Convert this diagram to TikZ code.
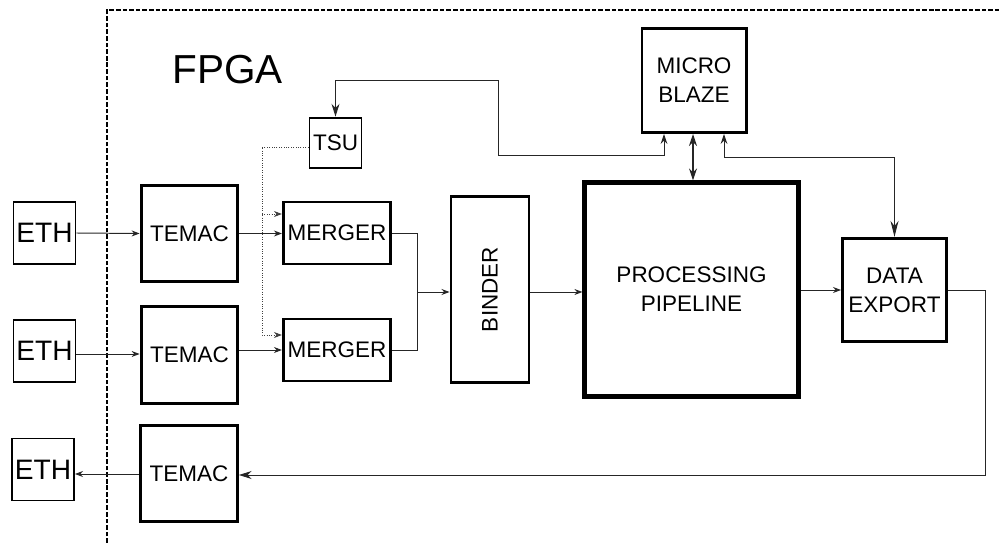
\documentclass[tikz,border=0pt]{standalone}
\usepackage{fontspec}
\setmainfont{Liberation Sans}
\usetikzlibrary{arrows.meta, positioning}

\begin{document}
\begin{tikzpicture}[x=0.025cm, y=-0.025cm,
    >={Stealth[length=0.2cm, width=0.15cm]},
    blk/.style={draw, line width=2.1pt, align=center, inner sep=0pt,
                font=\fontsize{16pt}{20.6pt}\selectfont},
    thin blk/.style={blk, line width=1.4pt},
    wire/.style={line width=0.7pt, black!85},
    dotline/.style={wire, densely dotted, line width=0.7pt, black!75},
    bigtip/.style={-{Stealth[length=0.32cm, width=0.2cm]}}]
  \useasboundingbox (0,0) rectangle (999,543);

  % FPGA border
  \draw[line width=1.4pt, dash pattern=on 3.3pt off 1.4pt] (107,543) -- (107,10) -- (999,10);
  \node[font=\fontsize{28.8pt}{30pt}\selectfont] (fpga) at (227.5,70) {FPGA};

  % Ethernet ports
  \node[thin blk, minimum width=1.55cm, minimum height=1.55cm,
        font=\fontsize{20pt}{22pt}\selectfont] (eth1) at (44.5,233) {ETH};
  \node[thin blk, minimum width=1.55cm, minimum height=1.55cm,
        font=\fontsize{20pt}{22pt}\selectfont] (eth2) at (44.5,351) {ETH};
  \node[thin blk, minimum width=1.55cm, minimum height=1.55cm,
        font=\fontsize{20pt}{22pt}\selectfont] (eth3) at (43,469.5) {ETH};

  % MACs
  \node[blk, minimum width=2.42cm, minimum height=2.42cm] (temac1) at (189.5,233.5) {TEMAC};
  \node[blk, minimum width=2.42cm, minimum height=2.42cm] (temac2) at (189.5,355) {TEMAC};
  \node[blk, minimum width=2.42cm, minimum height=2.42cm] (temac3) at (189,473.5) {TEMAC};

  % Mergers and timestamp unit
  \node[blk, minimum width=2.68cm, minimum height=1.55cm] (merger1) at (337,233) {MERGER};
  \node[blk, minimum width=2.68cm, minimum height=1.55cm] (merger2) at (337,350) {MERGER};
  \node[thin blk, minimum width=1.3cm, minimum height=1.27cm] (tsu) at (335.5,143) {TSU};

  % Core
  \node[blk, minimum width=1.95cm, minimum height=4.67cm] (binder) at (490,289.5)
        {\rotatebox{90}{BINDER}};
  \node[blk, line width=3.5pt, minimum width=5.33cm, minimum height=5.33cm] (pp) at (691.5,289.5)
        {PROCESSING\\PIPELINE};
  \node[blk, minimum width=2.6cm, minimum height=2.6cm] (mb) at (694,80.5) {MICRO\\BLAZE};
  \node[blk, minimum width=2.6cm, minimum height=2.58cm] (de) at (894.5,290) {DATA\\EXPORT};

  % Inputs
  \draw[wire, ->] (eth1.east) -- (temac1.west);
  \draw[wire, ->] (eth2.east |- 0,354) -- (temac2.west |- 0,354);
  \draw[wire, ->] (temac1.east) -- (merger1.west |- temac1.east);
  \draw[wire, ->] (temac2.east |- merger2.west) -- (merger2.west);

  % Timestamps
  \coordinate (ts1) at (262,214);
  \coordinate (ts2) at (262,335);
  \draw[dotline, ->] (tsu.west |- 0,147) -| (ts2) -- (ts2 -| merger2.west);
  \draw[dotline, ->] (ts1) -- (ts1 -| merger1.west);

  % Merge into binder
  \coordinate (join) at (417,292);
  \draw[wire] (merger1.east) -| (join);
  \draw[wire] (merger2.east) -| (join);
  \draw[wire, ->] (join) -- (binder.west |- join);
  \draw[wire, ->] (binder.east |- join) -- (pp.west |- join);
  \draw[wire, ->] (pp.east |- de.west) -- (de.west);

  % Output path
  \coordinate (ret) at (985,475);
  \draw[wire, bigtip] (de.east) -| (ret) -- (temac3.east |- ret);
  \draw[wire, ->] (temac3.west |- 0,474) -- (eth3.east |- 0,474);

  % Control bus
  \coordinate (c1) at (498,80);
  \coordinate (c2) at (498,155);
  \coordinate (c3) at (664,155);
  \draw[wire, {Stealth[length=0.32cm, width=0.2cm]}-{Stealth[length=0.25cm, width=0.17cm]}]
    (tsu.north) |- (c1) -- (c2) -- (c3) -- (c3 |- mb.south);
  \draw[wire, line width=0.9pt, {Stealth[length=0.3cm, width=0.2cm]}-{Stealth[length=0.3cm, width=0.2cm]}]
    (mb.south -| 693,0) -- (pp.north -| 693,0);
  \coordinate (c4) at (724,157);
  \draw[wire, {Stealth[length=0.25cm, width=0.17cm]}-{Stealth[length=0.4cm, width=0.2cm]}]
    (c4 |- mb.south) -- (c4) -| (de.north);
\end{tikzpicture}
\end{document}
